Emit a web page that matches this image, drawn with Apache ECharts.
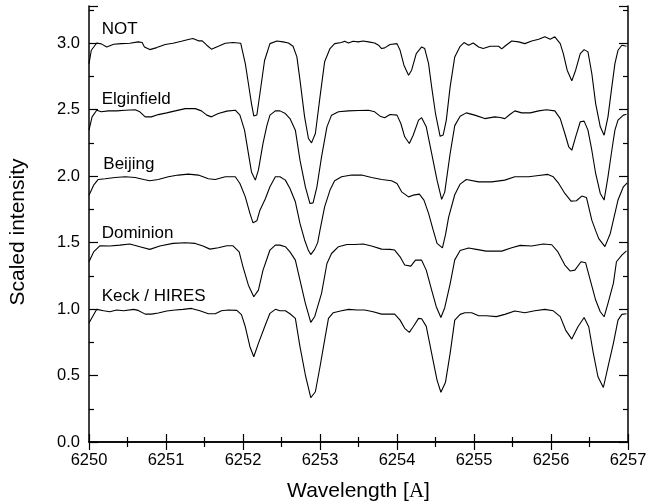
<!DOCTYPE html>
<html>
<head>
<meta charset="utf-8">
<script src="https://cdn.jsdelivr.net/npm/echarts@6/dist/echarts.min.js"></script>
<style>
html,body{margin:0;padding:0;background:#fff;}
#chart{width:649px;height:504px;}
</style>
</head>
<body>
<div id="chart"></div>
<script>
// ---- data (wavelength [A], scaled intensity as plotted) ----
var seriesNames = ['NOT', 'Elginfield', 'Beijing', 'Dominion', 'Keck / HIRES'];

var notData = [[6250.00,2.847],[6250.03,2.947],[6250.10,3.002],[6250.16,2.995],[6250.23,2.972],[6250.32,2.992],[6250.42,2.997],[6250.53,3.000],[6250.64,3.010],[6250.69,3.005],[6250.72,2.972],[6250.79,2.952],[6250.88,2.967],[6250.99,2.990],[6251.09,3.000],[6251.20,3.015],[6251.29,3.028],[6251.35,3.035],[6251.42,3.018],[6251.47,3.018],[6251.53,2.985],[6251.59,2.955],[6251.68,2.977],[6251.77,3.000],[6251.87,3.005],[6251.97,3.000],[6252.03,2.847],[6252.07,2.697],[6252.11,2.546],[6252.14,2.453],[6252.18,2.460],[6252.22,2.622],[6252.28,2.870],[6252.35,2.997],[6252.44,3.017],[6252.52,3.010],[6252.59,3.002],[6252.65,2.977],[6252.70,2.897],[6252.74,2.722],[6252.80,2.446],[6252.85,2.283],[6252.89,2.250],[6252.94,2.321],[6253.00,2.596],[6253.06,2.860],[6253.13,2.960],[6253.19,2.997],[6253.28,3.005],[6253.32,3.015],[6253.37,3.002],[6253.43,3.015],[6253.50,3.010],[6253.56,3.017],[6253.63,3.010],[6253.71,3.002],[6253.76,2.985],[6253.80,2.960],[6253.84,2.965],[6253.91,2.990],[6254.00,2.997],[6254.04,2.947],[6254.09,2.835],[6254.15,2.759],[6254.19,2.797],[6254.25,2.922],[6254.32,2.972],[6254.36,2.960],[6254.41,2.847],[6254.45,2.672],[6254.50,2.471],[6254.56,2.300],[6254.60,2.310],[6254.64,2.420],[6254.69,2.672],[6254.75,2.897],[6254.82,2.977],[6254.87,3.005],[6254.93,2.985],[6254.99,3.002],[6255.06,2.972],[6255.12,2.960],[6255.21,2.977],[6255.32,2.977],[6255.36,2.957],[6255.40,2.977],[6255.49,3.017],[6255.58,3.010],[6255.66,2.997],[6255.75,3.017],[6255.84,3.030],[6255.92,3.048],[6255.99,3.030],[6256.05,3.048],[6256.12,2.997],[6256.16,2.922],[6256.21,2.797],[6256.27,2.717],[6256.32,2.797],[6256.38,2.922],[6256.43,2.952],[6256.48,2.935],[6256.53,2.772],[6256.58,2.546],[6256.64,2.371],[6256.69,2.308],[6256.74,2.446],[6256.79,2.672],[6256.83,2.847],[6256.87,2.947],[6256.92,2.985],[6256.98,2.977]];

var elginfieldData = [[6250.00,2.346],[6250.04,2.446],[6250.10,2.496],[6250.16,2.484],[6250.25,2.491],[6250.36,2.491],[6250.47,2.496],[6250.60,2.500],[6250.66,2.484],[6250.73,2.446],[6250.81,2.446],[6250.90,2.463],[6251.01,2.476],[6251.12,2.491],[6251.25,2.508],[6251.38,2.508],[6251.46,2.491],[6251.53,2.459],[6251.59,2.446],[6251.68,2.471],[6251.79,2.489],[6251.90,2.496],[6251.96,2.459],[6252.02,2.346],[6252.07,2.171],[6252.11,2.032],[6252.16,1.970],[6252.20,2.045],[6252.26,2.246],[6252.31,2.380],[6252.35,2.459],[6252.42,2.491],[6252.48,2.491],[6252.55,2.471],[6252.61,2.433],[6252.68,2.346],[6252.74,2.120],[6252.81,1.920],[6252.87,1.794],[6252.91,1.799],[6252.96,1.920],[6253.02,2.145],[6253.09,2.371],[6253.15,2.459],[6253.24,2.484],[6253.37,2.491],[6253.50,2.494],[6253.63,2.496],[6253.71,2.484],[6253.78,2.451],[6253.84,2.440],[6253.91,2.464],[6254.00,2.459],[6254.05,2.396],[6254.10,2.296],[6254.16,2.246],[6254.21,2.308],[6254.28,2.421],[6254.32,2.440],[6254.38,2.371],[6254.45,2.171],[6254.52,1.970],[6254.58,1.825],[6254.62,1.880],[6254.69,2.170],[6254.75,2.380],[6254.82,2.451],[6254.90,2.476],[6255.01,2.459],[6255.14,2.433],[6255.27,2.446],[6255.34,2.441],[6255.40,2.433],[6255.47,2.466],[6255.53,2.491],[6255.62,2.476],[6255.73,2.476],[6255.84,2.491],[6255.94,2.500],[6256.05,2.491],[6256.12,2.433],[6256.18,2.321],[6256.23,2.221],[6256.27,2.195],[6256.32,2.296],[6256.38,2.409],[6256.43,2.414],[6256.48,2.346],[6256.53,2.195],[6256.58,2.020],[6256.64,1.870],[6256.69,1.820],[6256.74,1.995],[6256.79,2.195],[6256.83,2.346],[6256.87,2.421],[6256.94,2.459],[6256.98,2.466]];

var beijingData = [[6250.00,1.857],[6250.06,1.932],[6250.12,1.975],[6250.21,1.980],[6250.34,1.990],[6250.47,1.995],[6250.60,1.990],[6250.71,1.975],[6250.79,1.965],[6250.90,1.975],[6251.03,1.995],[6251.16,2.008],[6251.29,2.015],[6251.42,2.008],[6251.55,1.980],[6251.64,1.975],[6251.77,1.995],[6251.90,1.995],[6251.96,1.945],[6252.03,1.844],[6252.09,1.720],[6252.13,1.649],[6252.18,1.664],[6252.22,1.744],[6252.29,1.830],[6252.35,1.920],[6252.42,1.995],[6252.48,1.995],[6252.55,1.970],[6252.61,1.907],[6252.68,1.807],[6252.74,1.644],[6252.80,1.520],[6252.85,1.440],[6252.88,1.410],[6252.93,1.449],[6252.97,1.500],[6253.00,1.594],[6253.06,1.769],[6253.13,1.895],[6253.19,1.965],[6253.28,1.995],[6253.41,2.008],[6253.54,2.008],[6253.67,1.990],[6253.80,1.975],[6253.93,1.965],[6254.00,1.945],[6254.06,1.882],[6254.15,1.844],[6254.21,1.857],[6254.29,1.865],[6254.35,1.820],[6254.41,1.720],[6254.47,1.594],[6254.52,1.494],[6254.59,1.460],[6254.63,1.560],[6254.67,1.690],[6254.75,1.860],[6254.82,1.940],[6254.90,1.975],[6255.06,1.957],[6255.23,1.957],[6255.40,1.970],[6255.53,1.995],[6255.71,1.995],[6255.84,2.005],[6255.96,2.013],[6256.03,1.995],[6256.10,1.945],[6256.18,1.870],[6256.26,1.812],[6256.33,1.815],[6256.40,1.850],[6256.46,1.840],[6256.53,1.669],[6256.58,1.590],[6256.62,1.530],[6256.66,1.500],[6256.70,1.470],[6256.77,1.569],[6256.81,1.669],[6256.87,1.820],[6256.94,1.920],[6256.99,1.950]];

var dominionData = [[6250.00,1.356],[6250.06,1.430],[6250.14,1.476],[6250.27,1.474],[6250.40,1.481],[6250.53,1.489],[6250.66,1.469],[6250.79,1.449],[6250.92,1.474],[6251.09,1.494],[6251.25,1.499],[6251.38,1.494],[6251.48,1.474],[6251.57,1.451],[6251.68,1.461],[6251.79,1.476],[6251.87,1.476],[6251.95,1.430],[6252.00,1.318],[6252.07,1.180],[6252.14,1.093],[6252.20,1.143],[6252.26,1.293],[6252.30,1.360],[6252.35,1.444],[6252.42,1.481],[6252.48,1.481],[6252.55,1.469],[6252.61,1.430],[6252.68,1.368],[6252.74,1.218],[6252.81,1.043],[6252.88,0.900],[6252.93,0.942],[6253.02,1.118],[6253.09,1.343],[6253.15,1.418],[6253.24,1.469],[6253.35,1.486],[6253.45,1.486],[6253.56,1.489],[6253.67,1.474],[6253.80,1.451],[6253.91,1.449],[6253.97,1.444],[6254.04,1.393],[6254.10,1.331],[6254.18,1.323],[6254.24,1.368],[6254.32,1.368],[6254.38,1.293],[6254.45,1.143],[6254.51,1.018],[6254.57,0.937],[6254.62,1.010],[6254.69,1.190],[6254.75,1.370],[6254.82,1.440],[6254.93,1.459],[6255.03,1.449],[6255.16,1.436],[6255.36,1.436],[6255.49,1.461],[6255.60,1.479],[6255.75,1.474],[6255.90,1.489],[6256.01,1.484],[6256.09,1.430],[6256.18,1.331],[6256.25,1.286],[6256.31,1.293],[6256.39,1.356],[6256.45,1.348],[6256.51,1.218],[6256.58,1.068],[6256.64,0.980],[6256.69,0.942],[6256.74,1.043],[6256.81,1.193],[6256.85,1.356],[6256.92,1.406],[6256.98,1.438]];

var keckData = [[6250.00,0.895],[6250.10,0.998],[6250.19,0.987],[6250.27,0.980],[6250.36,0.993],[6250.45,0.987],[6250.58,0.998],[6250.64,0.990],[6250.73,0.962],[6250.81,0.962],[6250.90,0.970],[6251.01,0.985],[6251.12,0.993],[6251.22,0.998],[6251.33,1.005],[6251.44,0.987],[6251.55,0.965],[6251.64,0.965],[6251.72,0.987],[6251.81,0.993],[6251.92,0.990],[6251.98,0.958],[6252.03,0.867],[6252.09,0.717],[6252.14,0.641],[6252.20,0.742],[6252.29,0.880],[6252.35,0.968],[6252.42,0.998],[6252.48,0.987],[6252.55,0.987],[6252.61,0.965],[6252.68,0.930],[6252.74,0.717],[6252.81,0.504],[6252.88,0.333],[6252.94,0.378],[6253.00,0.566],[6253.06,0.767],[6253.11,0.930],[6253.17,0.972],[6253.28,0.987],[6253.37,0.998],[6253.48,0.993],[6253.58,0.993],[6253.69,0.980],[6253.80,0.962],[6253.89,0.962],[6253.97,0.962],[6254.04,0.917],[6254.10,0.855],[6254.16,0.825],[6254.21,0.867],[6254.28,0.930],[6254.32,0.927],[6254.38,0.870],[6254.45,0.667],[6254.52,0.466],[6254.57,0.374],[6254.63,0.450],[6254.69,0.667],[6254.75,0.917],[6254.82,0.960],[6254.88,0.972],[6254.97,0.972],[6255.06,0.950],[6255.16,0.950],[6255.29,0.943],[6255.40,0.960],[6255.53,0.985],[6255.66,0.972],[6255.79,0.987],[6255.92,0.998],[6256.03,0.987],[6256.12,0.943],[6256.19,0.842],[6256.27,0.774],[6256.35,0.867],[6256.43,0.937],[6256.49,0.867],[6256.55,0.667],[6256.61,0.491],[6256.68,0.410],[6256.74,0.566],[6256.81,0.742],[6256.87,0.917],[6256.92,0.960],[6256.98,0.965]];

var allData = [notData, elginfieldData, beijingData, dominionData, keckData];

var xTickMin = 6250, xTickMax = 6257;
var yTickMin = 0, yTickMax = 3.28;

// ---- chart ----
var chart = echarts.init(document.getElementById('chart'), null, {renderer: 'canvas'});
var FONT = '"Liberation Sans", Arial, sans-serif';
var axisLine = {show: true, lineStyle: {color: '#000', width: 1.5}};
var tickStyle = {color: '#000', width: 1.2};

function yLabel(v) {
  var k = v / 0.5;
  return Math.abs(k - Math.round(k)) < 1e-6 ? v.toFixed(1) : '';
}
function xLabel(v) { return String(Math.round(v)); }

var series = allData.map(function (d, i) {
  return {
    name: seriesNames[i],
    type: 'line',
    data: d,
    showSymbol: false,
    smooth: false,
    lineStyle: {color: '#000', width: 1.1},
    silent: true,
    animation: false
  };
});

chart.setOption({
  animation: false,
  backgroundColor: '#fff',
  grid: {left: 89, right: 21, top: 6, bottom: 62, containLabel: false, outerBoundsMode: 'none'},
  xAxis: [{
    type: 'value', min: xTickMin, max: xTickMax, interval: 1, position: 'bottom',
    axisLine: axisLine,
    axisTick: {show: true, inside: true, length: 8, lineStyle: tickStyle},
    minorTick: {show: true, splitNumber: 2, length: 5, lineStyle: tickStyle},
    splitLine: {show: false},
    axisLabel: {color: '#000', fontSize: 16.5, fontFamily: FONT, margin: 10, formatter: xLabel},
    name: 'Wavelength [{s|A}]',
    nameLocation: 'middle', nameGap: 39,
    nameTextStyle: {color: '#000', fontSize: 21, fontFamily: FONT,
      rich: {s: {fontFamily: '"Liberation Serif", "Times New Roman", serif', fontSize: 21, color: '#000'}}}
  }, {
    type: 'value', min: xTickMin, max: xTickMax, interval: 1, position: 'top',
    axisLine: axisLine,
    axisTick: {show: true, inside: true, length: 8, lineStyle: tickStyle},
    minorTick: {show: true, splitNumber: 2, length: 5, lineStyle: tickStyle},
    splitLine: {show: false},
    axisLabel: {show: false}
  }],
  yAxis: [{
    type: 'value', min: yTickMin, max: yTickMax, interval: 0.5, position: 'left',
    axisLine: axisLine,
    axisTick: {show: true, inside: true, length: 9, lineStyle: tickStyle},
    minorTick: {show: true, splitNumber: 2, length: 5, lineStyle: tickStyle},
    splitLine: {show: false},
    axisLabel: {color: '#000', fontSize: 16.5, fontFamily: FONT, margin: 9, formatter: yLabel},
    name: 'Scaled intensity',
    nameLocation: 'middle', nameGap: 60,
    nameTextStyle: {color: '#000', fontSize: 21, fontFamily: FONT, padding: [0, 16, 0, 0]}
  }, {
    type: 'value', min: yTickMin, max: yTickMax, interval: 0.5, position: 'right',
    axisLine: axisLine,
    axisTick: {show: true, inside: true, length: 9, lineStyle: tickStyle},
    minorTick: {show: true, splitNumber: 2, length: 5, lineStyle: tickStyle},
    splitLine: {show: false},
    axisLabel: {show: false}
  }],
  series: series
});

// series name labels anchored in data coordinates (left edge, text baseline)
var labelAnchors = [[6250.165, 3.06], [6250.165, 2.534], [6250.186, 2.045], [6250.165, 1.524], [6250.165, 1.051]];
var LABEL_SIZE = 17;
var graphics = seriesNames.map(function (n, i) {
  var p = chart.convertToPixel({gridIndex: 0}, labelAnchors[i]);
  return {
    type: 'text', x: p[0], y: p[1] - 0.347 * LABEL_SIZE,
    style: {text: n, fill: '#000', font: LABEL_SIZE + 'px ' + FONT, textAlign: 'left', textVerticalAlign: 'middle'},
    silent: true
  };
});
chart.setOption({graphic: graphics});
</script>
</body>
</html>
